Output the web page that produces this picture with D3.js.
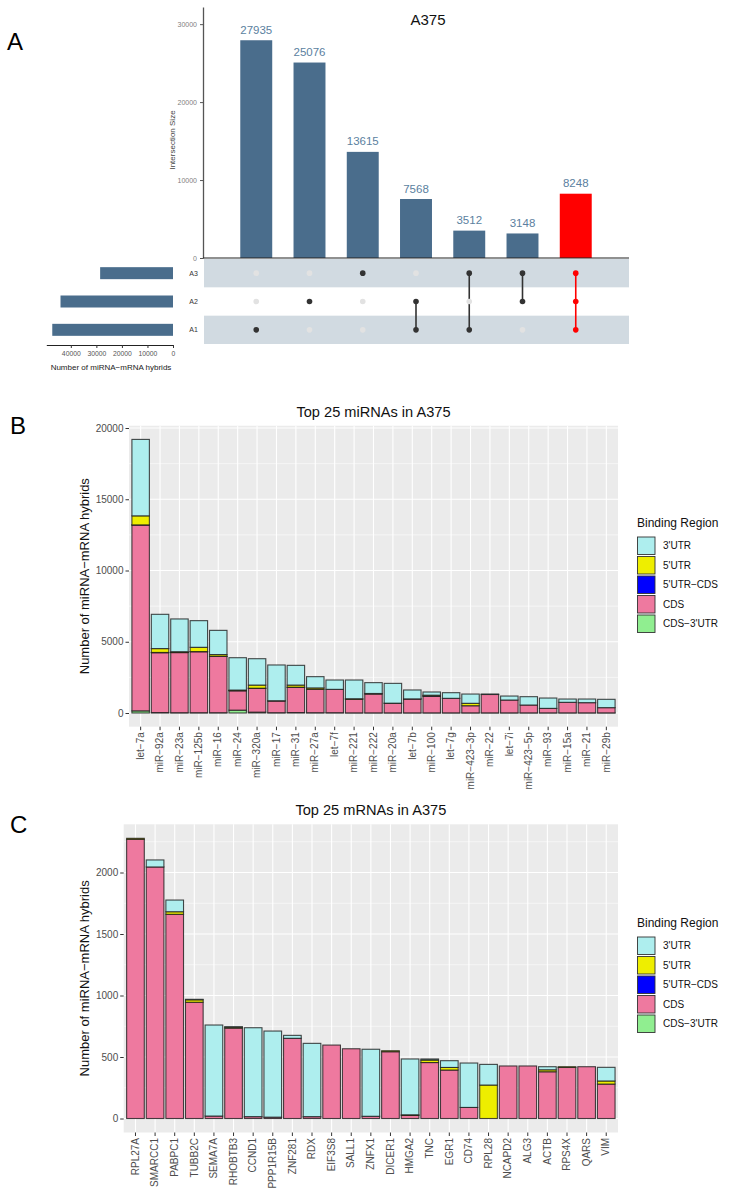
<!DOCTYPE html>
<html><head><meta charset="utf-8">
<script src="https://cdn.jsdelivr.net/npm/d3@7"></script>
<style>
body{margin:0;background:#fff}
svg{display:block}
text{font-family:"Liberation Sans",Arial,Helvetica,sans-serif}
</style>
</head><body>
<svg id="chart" width="734" height="1200"></svg>
<script>
// ---------------- Panel A data (UpSet) ----------------
const intersectLabels = ["A1","A2","A3","A1&A2","A1&A3","A2&A3","A1&A2&A3"];
const intersectSizes = [27935, 25076, 13615, 7568, 3512, 3148, 8248];
const intersectMembers = [["A1"],["A2"],["A3"],["A1","A2"],["A1","A3"],["A2","A3"],["A1","A2","A3"]];
const intersectHighlight = [false,false,false,false,false,false,true];
const setNames = ["A3","A2","A1"];
const mainTicks = [0,10000,20000,30000];
const setSizeTicks = [0,10000,20000,30000,40000];

// ---------------- Panel B data (Top 25 miRNAs) ----------------
const regionNames = ["3'UTR","5'UTR","5'UTR\u2212CDS","CDS","CDS\u22123'UTR"];
const regionColors = ["#aeeeee","#eeee00","#0000ff","#ee799f","#90ee90"];
const miRNAs = ["let\u22127a","miR\u221292a","miR\u221223a","miR\u2212125b","miR\u221216","miR\u221224","miR\u2212320a","miR\u221217","miR\u221231","miR\u221227a","let\u22127f","miR\u2212221","miR\u2212222","miR\u221220a","let\u22127b","miR\u2212100","let\u22127g","miR\u2212423\u22123p","miR\u221222","let\u22127i","miR\u2212423\u22125p","miR\u221293","miR\u221215a","miR\u221221","miR\u221229b"];
const miR_3UTR     = [5365,2405,2300,1870,1700,2270,1850,2510,1385,790,655,1315,760,1390,625,225,395,650,30,280,585,725,230,255,585];
const miR_5UTR     = [635,270,50,300,120,40,220,20,150,100,0,40,40,10,10,60,0,170,0,0,0,0,0,0,0];
const miR_5UTR_CDS = [10,20,10,10,10,10,10,0,10,0,0,0,0,0,0,10,0,0,0,0,0,0,0,0,0];
const miR_CDS      = [13040,4200,4220,4280,3950,1360,1670,820,1770,1640,1640,950,1320,670,970,1170,1020,500,1290,900,550,315,740,715,365];
const miR_CDS_3UTR = [150,30,20,20,20,200,60,20,30,20,20,10,10,10,10,10,10,10,10,10,10,10,10,10,10];
const miRTicks = [0,5000,10000,15000,20000];
const miRMinor = [2500,7500,12500,17500];

// ---------------- Panel C data (Top 25 mRNAs) ----------------
const mRNAs = ["RPL27A","SMARCC1","PABPC1","TUBB2C","SEMA7A","RHOBTB3","CCND1","PPP1R15B","ZNF281","RDX","EIF3S8","SALL1","ZNFX1","DICER1","HMGA2","TNC","EGR1","CD74","RPL28","NCAPD2","ALG3","ACTB","RPS4X","QARS","VIM"];
const mR_3UTR     = [0,57,95,4,740,3,723,700,24,596,0,0,545,0,454,9,55,361,168,0,0,25,0,0,111];
const mR_5UTR     = [8,0,21,20,0,8,0,0,0,0,0,0,0,8,5,20,21,0,272,0,0,16,6,0,25];
const mR_5UTR_CDS = [0,0,0,0,0,0,0,0,0,0,0,0,0,0,0,0,0,0,0,0,0,0,0,0,0];
const mR_CDS      = [2270,2045,1660,945,20,735,15,11,652,15,597,567,18,543,25,455,394,90,0,427,427,380,415,421,280];
const mR_CDS_3UTR = [0,0,0,0,0,0,0,0,0,0,0,0,0,0,0,0,0,0,0,0,0,0,0,0,0];
const mRTicks = [0,500,1000,1500,2000];
const mRMinor = [250,750,1250,1750,2250];

const svg = d3.select("#chart");

// ================= Panel A =================
const barColor = "#4a6d8c";
const hiColor = "#ff0000";
svg.append("text").attr("x",7).attr("y",50).attr("font-size",24).text("A");
svg.append("text").attr("x",428).attr("y",25).attr("text-anchor","middle").attr("font-size",15).attr("fill","#111").text("A375");

const ax = d3.scaleLinear().domain([0,8]).range([203,629]);
const ay = d3.scaleLinear().domain([0,32200]).range([258,7]);
const bw = (ax(1)-ax(0))*0.6;

svg.selectAll("rect.ibar").data(intersectSizes).join("rect").attr("class","ibar")
  .attr("x",(d,i)=>ax(i+1)-bw/2).attr("width",bw)
  .attr("y",d=>ay(d)).attr("height",d=>ay(0)-ay(d))
  .attr("fill",(d,i)=>intersectHighlight[i]?hiColor:barColor);

svg.selectAll("text.ilab").data(intersectSizes).join("text").attr("class","ilab")
  .attr("x",(d,i)=>ax(i+1)).attr("y",d=>ay(d)-6.5)
  .attr("text-anchor","middle").attr("font-size",11.5).attr("fill","#5b7fa0")
  .text(d=>d);

const ayAxis = svg.append("g").attr("transform","translate(203,0)")
  .call(d3.axisLeft(ay).tickValues(mainTicks).tickSize(3).tickSizeOuter(0).tickFormat(d3.format("d")));
ayAxis.select(".domain").attr("stroke","#555").attr("stroke-width",1.3);
ayAxis.selectAll(".tick line").attr("stroke","#555");
ayAxis.selectAll(".tick text").attr("font-size",7).attr("fill","#808080").attr("font-family","Liberation Sans, Arial, sans-serif");
svg.append("text").attr("transform","translate(175,140) rotate(-90)").attr("text-anchor","middle")
  .attr("font-size",8).attr("fill","#444").text("Intersection Size");
svg.append("line").attr("x1",203).attr("x2",629).attr("y1",258).attr("y2",258).attr("stroke","#222").attr("stroke-width",1.2);

// matrix
const my = d3.scaleBand().domain(setNames).range([259,344]);
setNames.forEach((s,i)=>{
  if(i%2===0) svg.append("rect").attr("x",204).attr("width",425).attr("y",my(s)).attr("height",my.bandwidth()).attr("fill","#d1dae1");
});
const rowC = s=>my(s)+my.bandwidth()/2;
intersectMembers.forEach((mem,i)=>{
  const col = intersectHighlight[i]?hiColor:"#333";
  if(mem.length>1){
    const ys = mem.map(rowC);
    svg.append("line").attr("x1",ax(i+1)).attr("x2",ax(i+1))
      .attr("y1",d3.min(ys)).attr("y2",d3.max(ys)).attr("stroke",col).attr("stroke-width",1.6);
  }
  setNames.forEach(s=>{
    const on = mem.includes(s);
    svg.append("circle").attr("cx",ax(i+1)).attr("cy",rowC(s)).attr("r",2.8)
      .attr("fill",on?col:"#e2e2e2");
  });
});
svg.selectAll("text.slab").data(setNames).join("text").attr("class","slab")
  .attr("x",193.5).attr("y",s=>rowC(s)+2.5).attr("text-anchor","middle")
  .attr("font-size",7).attr("fill","#333").text(s=>s);

// set sizes (sum of intersections containing each set)
const setSizes = setNames.map(s=>d3.sum(intersectMembers.map((m,i)=>m.includes(s)?intersectSizes[i]:0)));
const sx = d3.scaleLinear().domain([0,49600]).range([173,46.3]);
svg.selectAll("rect.sbar").data(setSizes).join("rect").attr("class","sbar")
  .attr("x",d=>sx(d)).attr("width",d=>sx(0)-sx(d))
  .attr("y",(d,i)=>rowC(setNames[i])-6).attr("height",12).attr("fill",barColor);
const sAxis = svg.append("g").attr("transform","translate(0,345)")
  .call(d3.axisBottom(sx).tickValues(setSizeTicks).tickSize(3).tickSizeOuter(0).tickFormat(d3.format("d")));
sAxis.select(".domain").attr("stroke","#222").attr("stroke-width",1.1);
sAxis.selectAll(".tick line").attr("stroke","#333");
sAxis.selectAll(".tick text").attr("font-size",6.8).attr("fill","#555").attr("font-family","Liberation Sans, Arial, sans-serif");
svg.append("text").attr("x",111).attr("y",370).attr("text-anchor","middle").attr("font-size",8).attr("fill","#222")
  .text("Number of miRNA\u2212mRNA hybrids");

// ================= Panels B and C =================
function stackedPanel(o){
  const g = svg.append("g");
  const keys = ["CDS\u22123'UTR","CDS","5'UTR\u2212CDS","5'UTR","3'UTR"];
  const rows = o.cats.map((c,i)=>({cat:c,
    "3'UTR":o.s3[i],"5'UTR":o.s5[i],"5'UTR\u2212CDS":o.s5c[i],"CDS":o.scds[i],"CDS\u22123'UTR":o.sc3[i]}));
  const stack = d3.stack().keys(keys)(rows);
  const totals = rows.map(r=>d3.sum(keys,k=>r[k]));
  const maxT = d3.max(totals);
  const x = d3.scaleBand().domain(o.cats).range([o.left,o.right]).paddingInner(0.1).paddingOuter(0.15);
  const y = d3.scaleLinear().domain([0,o.refVal]).range([o.zeroY,o.refY]);
  const top = y(maxT*1.05), bottom = y(-maxT*0.05);
  const colorOf = d3.scaleOrdinal().domain(regionNames).range(regionColors);

  g.append("rect").attr("x",o.left).attr("y",top).attr("width",o.right-o.left).attr("height",bottom-top).attr("fill","#ebebeb");
  g.selectAll("line.minor").data(o.minor.filter(v=>y(v)>top)).join("line")
    .attr("x1",o.left).attr("x2",o.right).attr("y1",d=>y(d)).attr("y2",d=>y(d)).attr("stroke","#fff").attr("stroke-width",0.55);
  g.selectAll("line.major").data(o.ticks).join("line")
    .attr("x1",o.left).attr("x2",o.right).attr("y1",d=>y(d)).attr("y2",d=>y(d)).attr("stroke","#fff").attr("stroke-width",1.1);
  g.selectAll("line.vmaj").data(o.cats).join("line")
    .attr("x1",d=>x(d)+x.bandwidth()/2).attr("x2",d=>x(d)+x.bandwidth()/2)
    .attr("y1",top).attr("y2",bottom).attr("stroke","#fff").attr("stroke-width",1.1);

  stack.forEach(layer=>{
    const k = layer.key;
    g.selectAll(null).data(layer.filter(d=>d[1]-d[0]>0)).join("rect")
      .attr("x",d=>x(d.data.cat)).attr("width",x.bandwidth())
      .attr("y",d=>y(d[1])).attr("height",d=>y(d[0])-y(d[1]))
      .attr("fill",colorOf(k)).attr("stroke","#1a1a1a").attr("stroke-width",1.1).attr("stroke-opacity",0.8);
  });

  // y axis
  const ya = g.append("g").attr("transform",`translate(${o.left},0)`)
    .call(d3.axisLeft(y).tickValues(o.ticks).tickSize(3.5).tickPadding(2).tickFormat(d3.format("d")));
  ya.select(".domain").remove();
  ya.selectAll(".tick line").attr("stroke","#333");
  ya.selectAll(".tick text").attr("font-size",10).attr("fill","#4d4d4d").attr("font-family","Liberation Sans, Arial, sans-serif");
  // x axis
  const xa = g.append("g").attr("transform",`translate(0,${bottom})`)
    .call(d3.axisBottom(x).tickSize(3.5).tickPadding(2));
  xa.select(".domain").remove();
  xa.selectAll(".tick line").attr("stroke","#333");
  xa.selectAll(".tick text").attr("font-size",10).attr("fill","#4d4d4d").attr("font-family","Liberation Sans, Arial, sans-serif")
    .attr("transform","rotate(-90)").attr("text-anchor","end").attr("dy","0.32em").attr("x",-5.5).attr("y",0);

  g.append("text").attr("x",(o.left+o.right)/2).attr("y",o.titleY).attr("text-anchor","middle")
    .attr("font-size",14.6).attr("fill","#111").text(o.title);
  g.append("text").attr("transform",`translate(${o.ytitleX},${(top+bottom)/2}) rotate(-90)`).attr("text-anchor","middle")
    .attr("font-size",13).attr("fill","#111").text("Number of miRNA\u2212mRNA hybrids");
  g.append("text").attr("x",10).attr("y",o.letterY).attr("font-size",24).text(o.letter);

  // legend
  const lg = g.append("g").attr("transform",`translate(637,${o.legendY})`);
  lg.append("text").attr("x",0).attr("y",0).attr("font-size",12).attr("fill","#111").text("Binding Region");
  regionNames.forEach((r,i)=>{
    lg.append("rect").attr("x",0.5).attr("y",10+i*19.5).attr("width",17.5).attr("height",17.5)
      .attr("fill",regionColors[i]).attr("stroke","#333").attr("stroke-width",0.9);
    lg.append("text").attr("x",26).attr("y",10+i*19.5+8.75).attr("dy","0.35em").attr("font-size",10).attr("fill","#111").text(r);
  });
}

stackedPanel({cats:miRNAs,s3:miR_3UTR,s5:miR_5UTR,s5c:miR_5UTR_CDS,scds:miR_CDS,sc3:miR_CDS_3UTR,
  left:129,right:618,zeroY:713,refVal:20000,refY:428,ticks:miRTicks,minor:miRMinor,
  title:"Top 25 miRNAs in A375",titleY:417,ytitleX:89,letter:"B",letterY:434,legendY:527});

stackedPanel({cats:mRNAs,s3:mR_3UTR,s5:mR_5UTR,s5c:mR_5UTR_CDS,scds:mR_CDS,sc3:mR_CDS_3UTR,
  left:123.7,right:618,zeroY:1118.5,refVal:2000,refY:872.5,ticks:mRTicks,minor:mRMinor,
  title:"Top 25 mRNAs in A375",titleY:815,ytitleX:89,letter:"C",letterY:833,legendY:927});
</script>
</body></html>
